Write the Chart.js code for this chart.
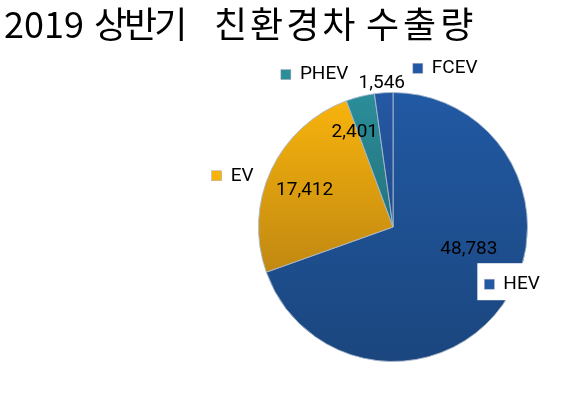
<!DOCTYPE html>
<html>
<head>
<meta charset="utf-8">
<script src="https://cdn.jsdelivr.net/npm/chart.js@4/dist/chart.umd.min.js"></script>
<style>
  body { margin: 0; background: #fff; }
  #wrap { position: relative; width: 587px; height: 393px; }
  #title span { position: absolute; top: -4px; font-family: "Noto Sans CJK KR", sans-serif;
           font-size: 36px; color: #000; white-space: pre; }
  canvas { position: absolute; left: 0; top: 0; }
</style>
</head>
<body>
<div id="wrap">
  <canvas id="mainChart" width="587" height="393"></canvas>
  <div id="title"><span style="left:4px">2019</span> <span style="left:94px;letter-spacing:-3px">상반기</span> <span style="left:214px;letter-spacing:3px">친환경차</span> <span style="left:366px;letter-spacing:4px">수출량</span></div>
</div>
<script>
const categories = ["HEV", "EV", "PHEV", "FCEV"];
const exports2019 = [48783, 17412, 2401, 1546];

// slice colours: light (top) -> dark (bottom)
const topColors = ["#2159a3", "#f7b30c", "#2b8e99", "#2558a4"];
const bottomColors = ["#1b467e", "#c18812", "#23727d", "#1f4c8c"];

// label placement: [fraction through slice, radius fraction] / [deg from top, radius fraction]
const valuePos = [[0.424, 0.585], [0.474, 0.71], [-0.13, 0.76], [0.44, 1.07]];
const namePos = [[120.7, 0.83], [286.2, 1.36], [324.9, 1.38], [8.9, 1.19]];

function pieGeom(chart) {
    const a = chart.chartArea;
    return { cx: (a.left + a.right) / 2, cy: (a.top + a.bottom) / 2, r: Math.min(a.right - a.left, a.bottom - a.top) / 2 };
}

function sliceAngles() {
    const total = exports2019.reduce((s, v) => s + v, 0);
    let acc = 0;
    return exports2019.map(v => {
        const s = acc / total * 360;
        acc += v;
        return [s, acc / total * 360];
    });
}

function fillFor(context) {
    const chart = context.chart;
    if (!chart.chartArea) return topColors[context.dataIndex];
    const g = pieGeom(chart);
    const [s, e] = sliceAngles()[context.dataIndex];
    let ys = [g.cy];
    for (let d = s; d <= e; d += 2) {
        ys.push(g.cy - g.r * Math.cos(d * Math.PI / 180));
    }
    ys.push(g.cy - g.r * Math.cos(e * Math.PI / 180));
    const y0 = Math.min(...ys), y1 = Math.max(...ys);
    const grad = chart.ctx.createLinearGradient(0, y0, 0, y1 + 1);
    grad.addColorStop(0, topColors[context.dataIndex]);
    grad.addColorStop(1, bottomColors[context.dataIndex]);
    return grad;
}

const labelPlugin = {
    id: 'labelPlugin',
    afterDatasetsDraw(chart) {
        const ctx = chart.ctx;
        const g = pieGeom(chart);
        const angles = sliceAngles();
        const toXY = (deg, rf) => {
            const rad = (deg - 90) * Math.PI / 180;
            return [g.cx + Math.cos(rad) * g.r * rf, g.cy + Math.sin(rad) * g.r * rf];
        };
        ctx.save();
        ctx.font = '19px Roboto, sans-serif';
        ctx.textBaseline = 'middle';
        exports2019.forEach((v, i) => {
            const [s, e] = angles[i];
            const [fr, rf] = valuePos[i];
            const [x, y] = toXY(s + (e - s) * fr, rf);
            ctx.fillStyle = '#000';
            ctx.textAlign = 'center';
            ctx.fillText(v.toLocaleString('en-US'), x, y);

            const [mx, my] = toXY(namePos[i][0], namePos[i][1]);
            const tw = ctx.measureText(categories[i]).width;
            if (categories[i] === 'HEV') {
                ctx.fillStyle = '#fff';
                ctx.fillRect(mx - 12, my - 21, tw + 60, 37);
            }
            ctx.fillStyle = topColors[i];
            ctx.fillRect(mx - 5, my - 5, 10, 10);
            ctx.strokeStyle = '#aab';
            ctx.lineWidth = 0.5;
            ctx.strokeRect(mx - 5, my - 5, 10, 10);
            ctx.fillStyle = '#000';
            ctx.textAlign = 'left';
            ctx.fillText(categories[i], mx + 14, my);
        });
        ctx.restore();
    }
};

new Chart(document.getElementById("mainChart"), {
    type: 'pie',
    data: {
        labels: categories,
        datasets: [{
            data: exports2019,
            backgroundColor: fillFor,
            borderColor: 'rgba(170,185,205,0.9)',
            borderWidth: 1
        }]
    },
    options: {
        responsive: false,
        animation: false,
        layout: { padding: { top: 92, bottom: 31, left: 258, right: 59 } },
        plugins: {
            legend: { display: false },
            tooltip: { enabled: false }
        }
    },
    plugins: [labelPlugin]
});
</script>
</body>
</html>
